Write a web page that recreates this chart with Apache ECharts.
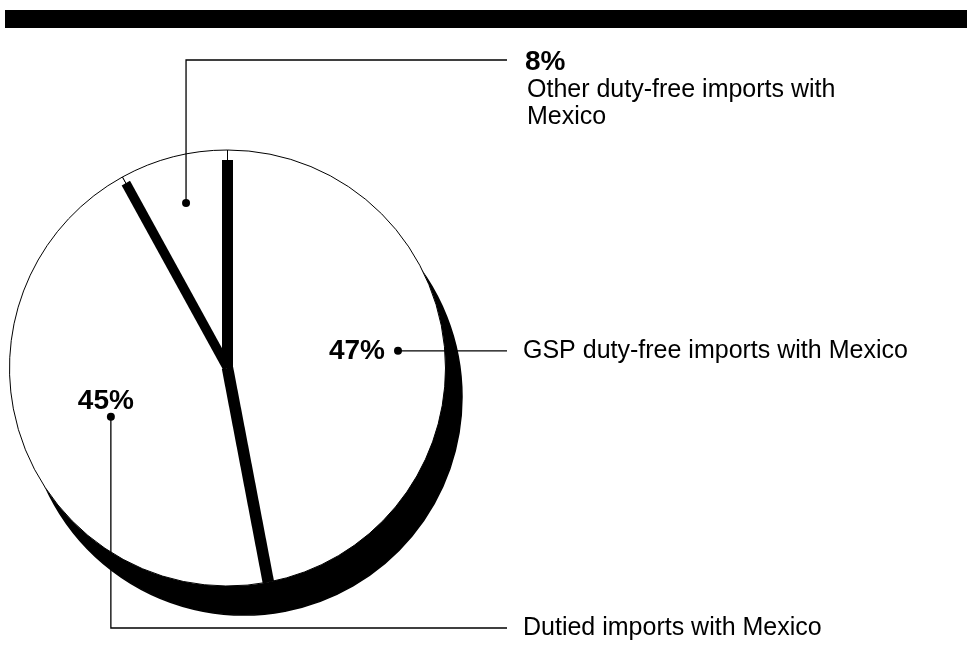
<!DOCTYPE html>
<html>
<head>
<meta charset="utf-8">
<script src="https://cdn.jsdelivr.net/npm/echarts@6/dist/echarts.min.js"></script>
<style>
html,body{margin:0;padding:0;background:#fff;}
#chart{width:967px;height:664px;}
</style>
</head>
<body>
<div id="chart"></div>
<script>
// ---- data ----
var categories = ['GSP duty-free imports with Mexico', 'Dutied imports with Mexico', 'Other duty-free imports with\nMexico'];
var shares = [47, 45, 8];

// ---- layout ----
var CX = 227.5, CY = 368, R = 218;
var SHADOW_CX = 244, SHADOW_CY = 397;
var dotRadiusFrac = [0.786, 0.58, 0.78];
var dotAngleFrac = [0.498, 0.482, 0.51];
var sepWidth = [11, 11.5, 9.5];  // separator band widths (at slice start boundaries)
var sepInset = [10, 0, 7];       // separator band stops this far inside the rim
var FONT = '"Liberation Sans", Arial, Helvetica, sans-serif';

var total = shares.reduce(function(a,b){return a+b;}, 0);
var starts = [], spans = [], acc = 0;
shares.forEach(function(v){ starts.push(acc/total*2*Math.PI); spans.push(v/total*2*Math.PI); acc += v; });
function polar(a, d){ return [CX + d*Math.sin(a), CY - d*Math.cos(a)]; }
function dotPos(i){ return polar(starts[i] + dotAngleFrac[i]*spans[i], dotRadiusFrac[i]*R); }

var base = {
  type: 'pie', startAngle: 90, clockwise: true, radius: [0, R],
  label: {show: false}, labelLine: {show: false},
  emphasis: {disabled: true}, silent: true, animation: false,
  avoidLabelOverlap: false, selectedMode: false
};

var chart = echarts.init(document.getElementById('chart'), null, {renderer: 'canvas'});

var graphics = [];
// top bar
graphics.push({type: 'rect', shape: {x: 5, y: 10, width: 962, height: 18}, style: {fill: '#000'}, z: 10});

// separator bands between slices (at each slice boundary)
starts.forEach(function(a, i){
  graphics.push({type:'polyline', shape:{points:[[CX, CY], polar(a, R - sepInset[i])]},
    style:{stroke:'#000', lineWidth: sepWidth[i], lineCap:'butt', fill:null}, z: 5});
});

var LINE_END = 507, TEXT_X = 523;
var lineStyle = {stroke: '#000', lineWidth: 1.3, fill: null};
var boldFont = 'bold 28px ' + FONT;
var normFont = '25px ' + FONT;

// 47% (index 0)
(function(){
  var p = dotPos(0);
  graphics.push({type:'polyline', shape:{points:[p,[LINE_END,p[1]]]}, style: lineStyle, z: 20});
  graphics.push({type:'circle', shape:{cx:p[0], cy:p[1], r:4}, style:{fill:'#000'}, z: 21});
  graphics.push({type:'text', x: p[0]-13, y: p[1], style:{text: shares[0]+'%', font: boldFont, fill:'#000', textAlign:'right', textVerticalAlign:'middle'}, z: 21});
  graphics.push({type:'text', x: TEXT_X, y: p[1], style:{text: categories[0], font: normFont, fill:'#000', textAlign:'left', textVerticalAlign:'middle'}, z: 21});
})();
// 45% (index 1)
(function(){
  var p = dotPos(1), elbowY = 628;
  graphics.push({type:'polyline', shape:{points:[p,[p[0],elbowY],[LINE_END,elbowY]]}, style: lineStyle, z: 20});
  graphics.push({type:'circle', shape:{cx:p[0], cy:p[1], r:4}, style:{fill:'#000'}, z: 21});
  graphics.push({type:'text', x: p[0]-5, y: p[1]-16, style:{text: shares[1]+'%', font: boldFont, fill:'#000', textAlign:'center', textVerticalAlign:'middle'}, z: 21});
  graphics.push({type:'text', x: TEXT_X, y: elbowY, style:{text: categories[1], font: normFont, fill:'#000', textAlign:'left', textVerticalAlign:'middle'}, z: 21});
})();
// 8% (index 2)
(function(){
  var p = dotPos(2), elbowY = 60;
  graphics.push({type:'polyline', shape:{points:[p,[p[0],elbowY],[LINE_END,elbowY]]}, style: lineStyle, z: 20});
  graphics.push({type:'circle', shape:{cx:p[0], cy:p[1], r:4}, style:{fill:'#000'}, z: 21});
  graphics.push({type:'text', x: 525, y: 62, style:{text: shares[2]+'%', font: boldFont, fill:'#000', textAlign:'left', textVerticalAlign:'middle'}, z: 21});
  graphics.push({type:'text', x: TEXT_X+4, y: 77, style:{text: categories[2], font: normFont, lineHeight: 27, fill:'#000', textAlign:'left', textVerticalAlign:'top'}, z: 21});
})();

chart.setOption({
  animation: false,
  backgroundColor: '#fff',
  series: [
    Object.assign({}, base, {
      name: 'shadow', center: [SHADOW_CX, SHADOW_CY], z: 1,
      itemStyle: {color: '#000', borderColor: '#000', borderWidth: 1.5},
      data: shares.map(function(v,i){ return {name: categories[i], value: v}; })
    }),
    Object.assign({}, base, {
      name: 'main', center: [CX, CY], z: 3,
      itemStyle: {color: '#fff', borderColor: '#000', borderWidth: 1},
      data: shares.map(function(v,i){ return {name: categories[i], value: v}; })
    })
  ],
  graphic: graphics
});
</script>
</body>
</html>
